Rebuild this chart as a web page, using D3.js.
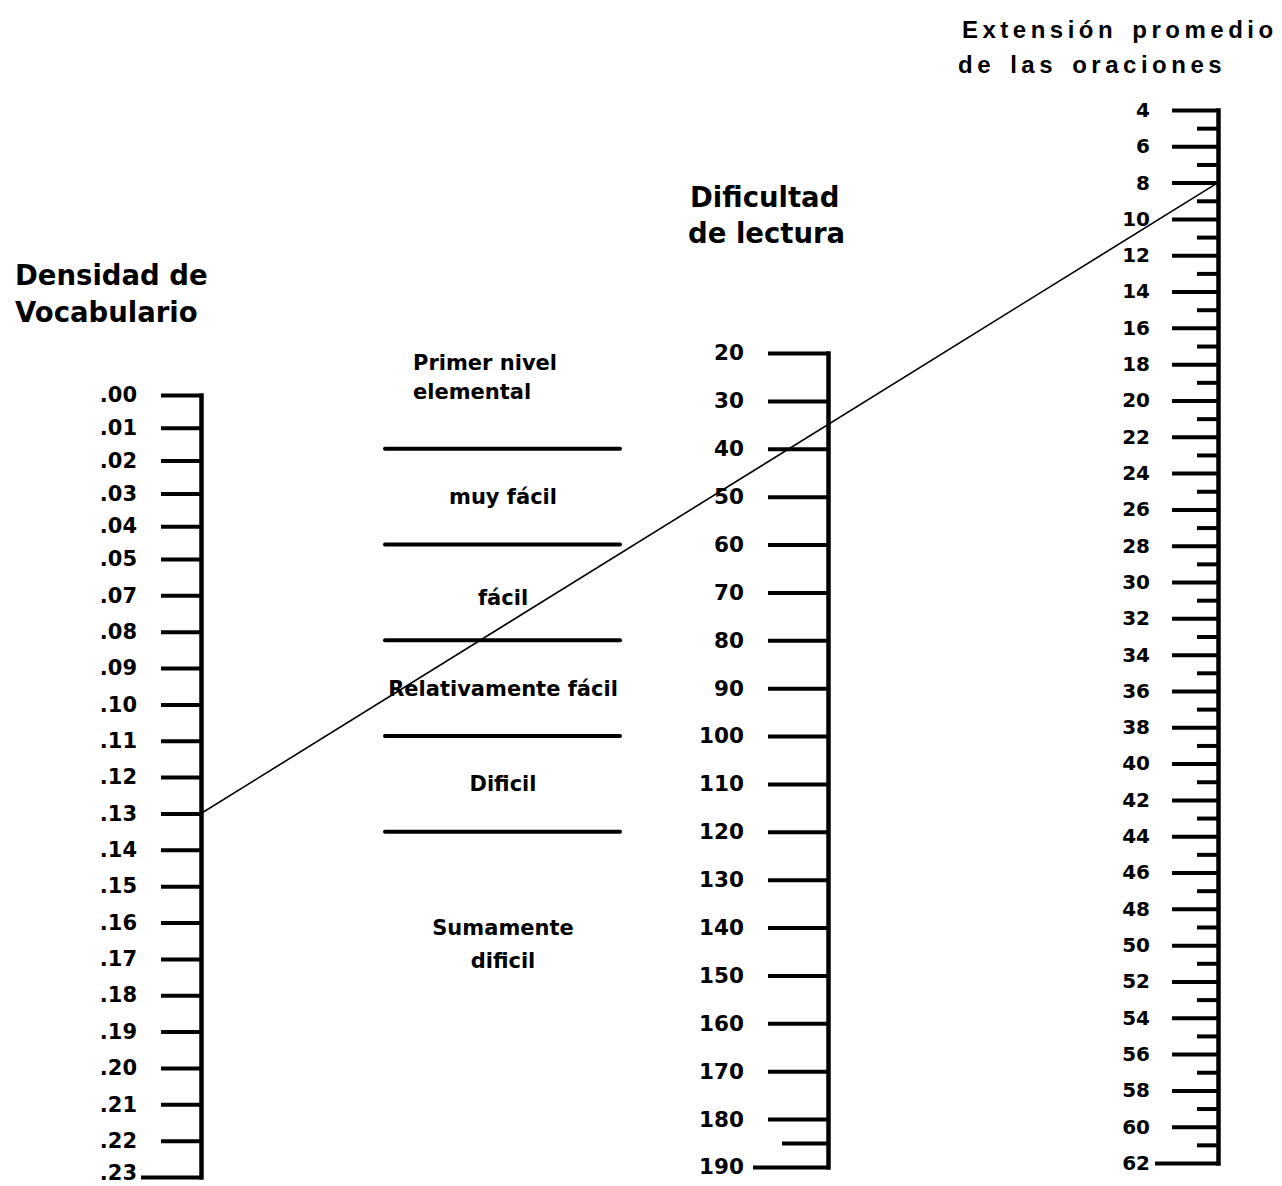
<!DOCTYPE html>
<html>

<head>
  <meta charset="utf-8">
  <script src="https://cdn.jsdelivr.net/npm/d3@7"></script>
  <style>
    *{
      margin: 0px 0px;
      padding: 0px 0px;
    }
    body{
      background-color: white;
    }
    .axis path, .axis line{
      stroke: black;
    }
    .axis text{
      font-family: "DejaVu Sans", sans-serif;
      font-weight: bold;
      fill: black;
    }
    .title{
      font-family: "DejaVu Sans", sans-serif;
      font-weight: bold;
      font-size: 27.5px;
    }
    .band{
      font-family: "DejaVu Sans", sans-serif;
      font-weight: bold;
      font-size: 21px;
    }
    .ext{
      font-family: "Liberation Sans", sans-serif;
      font-weight: bold;
      font-size: 24px;
      letter-spacing: 4.5px;
      word-spacing: 4px;
    }
  </style>
</head>

<body>
  <script type="text/javascript">
    // values
    var densidad = [".00", ".01", ".02", ".03", ".04", ".05", ".07", ".08", ".09", ".10", ".11", ".12",
      ".13", ".14", ".15", ".16", ".17", ".18", ".19", ".20", ".21", ".22", ".23"];
    var dificultad = [20, 30, 40, 50, 60, 70, 80, 90, 100, 110, 120, 130, 140, 150, 160, 170, 180, 190];
    var dificultadMinor = [185];
    var extension = [4, 6, 8, 10, 12, 14, 16, 18, 20, 22, 24, 26, 28, 30, 32, 34, 36, 38, 40, 42, 44, 46,
      48, 50, 52, 54, 56, 58, 60, 62];
    var extensionMinor = [5, 7, 9, 11, 13, 15, 17, 19, 21, 23, 25, 27, 29, 31, 33, 35, 37, 39, 41, 43, 45,
      47, 49, 51, 53, 55, 57, 59, 61];

    // reading-difficulty bands (limits on the middle scale)
    var bandLimits = [40, 60, 80, 100, 120];
    var bandNames = [["Primer nivel", "elemental"], ["muy fácil"], ["fácil"], ["Relativamente fácil"],
      ["Dificil"], ["Sumamente", "dificil"]];
    var bandAt = [[22, 28], [50], [71], [90], [110], [140, 147]];

    // example reading drawn on the chart
    var lecturaDensidad = ".13";
    var lecturaExtension = 8;

    var w = 1282;
    var h = 1186;

    var svg = d3.select("body").append("svg")
      .attr("width", w)
      .attr("height", h);

    // scales (left one is not evenly spaced in the original, so index based)
    var yDens = d3.scaleLinear().domain([0, 5, densidad.length - 1]).range([395, 559, 1177]);
    var yDif = d3.scaleLinear().domain([20, 190]).range([353, 1167]);
    var yExt = d3.scaleLinear().domain([4, 62]).range([110, 1163]);

    var xDens = 201, xDif = 828, xExt = 1218;

    function styleAxis(g, size) {
      g.select(".domain").attr("stroke-width", 4.5).attr("stroke-linecap", "square");
      g.selectAll(".tick line").attr("stroke-width", 4);
      g.selectAll(".tick text").attr("font-size", size);
    }

    // left scale: Densidad de Vocabulario
    var gDens = svg.append("g")
      .attr("class", "axis")
      .attr("transform", "translate(" + xDens + ",0)")
      .call(d3.axisLeft(yDens)
        .tickValues(d3.range(densidad.length))
        .tickFormat(function(i) { return densidad[i]; })
        .tickSize(40).tickSizeOuter(0).tickPadding(24))
      .call(styleAxis, 21);
    var lastDens = gDens.selectAll(".tick").filter(function(d) { return d == densidad.length - 1; });
    lastDens.select("line").attr("x2", -60);
    lastDens.select("text").attr("dy", "0.1em");

    // middle scale: Dificultad de lectura
    var gDif = svg.append("g")
      .attr("class", "axis")
      .attr("transform", "translate(" + xDif + ",0)")
      .call(d3.axisLeft(yDif)
        .tickValues(dificultad)
        .tickSize(60).tickSizeOuter(0).tickPadding(24))
      .call(styleAxis, 21.5);
    gDif.selectAll(".tick line").filter(function(d) { return d == 190; }).attr("x2", -75);

    svg.append("g")
      .attr("class", "axis")
      .attr("transform", "translate(" + xDif + ",0)")
      .call(d3.axisLeft(yDif).tickValues(dificultadMinor).tickSize(46).tickFormat(""))
      .call(styleAxis, 20)
      .call(function(g) { g.select(".domain").remove(); });

    // right scale: Extension promedio de las oraciones
    var gExt = svg.append("g")
      .attr("class", "axis")
      .attr("transform", "translate(" + xExt + ",0)")
      .call(d3.axisLeft(yExt)
        .tickValues(extension)
        .tickSize(46).tickSizeOuter(0).tickPadding(22))
      .call(styleAxis, 20);
    gExt.selectAll(".tick line").filter(function(d) { return d == 62; }).attr("x2", -63);

    svg.append("g")
      .attr("class", "axis")
      .attr("transform", "translate(" + xExt + ",0)")
      .call(d3.axisLeft(yExt).tickValues(extensionMinor).tickSize(21).tickFormat(""))
      .call(styleAxis, 20)
      .call(function(g) { g.select(".domain").remove(); });

    // band separators
    svg.selectAll(".limit")
      .data(bandLimits)
      .enter()
      .append("line")
      .attr("class", "limit")
      .attr("x1", 385)
      .attr("x2", 620)
      .attr("y1", function(d) { return yDif(d); })
      .attr("y2", function(d) { return yDif(d); })
      .attr("stroke", "black")
      .attr("stroke-width", 4)
      .attr("stroke-linecap", "round");

    // band names
    bandNames.forEach(function(lines, i) {
      lines.forEach(function(t, j) {
        svg.append("text")
          .attr("class", "band")
          .attr("x", i == 0 ? 413 : 503)
          .attr("y", yDif(bandAt[i][j]))
          .attr("dy", "0.35em")
          .attr("text-anchor", i == 0 ? "start" : "middle")
          .text(t);
      });
    });

    // titles
    svg.append("text").attr("class", "title").attr("x", 15).attr("y", 285).text("Densidad de");
    svg.append("text").attr("class", "title").attr("x", 15).attr("y", 322).text("Vocabulario");
    svg.append("text").attr("class", "title").attr("x", 690).attr("y", 207).text("Dificultad");
    svg.append("text").attr("class", "title").attr("x", 688).attr("y", 243).text("de lectura");
    svg.append("text").attr("class", "ext").attr("x", 962).attr("y", 38).text("Extensión promedio");
    svg.append("text").attr("class", "ext").attr("x", 958).attr("y", 73).text("de las oraciones");

    // reading line joining the two outer scales
    svg.append("line")
      .attr("x1", xDens)
      .attr("y1", yDens(densidad.indexOf(lecturaDensidad)))
      .attr("x2", xExt)
      .attr("y2", yExt(lecturaExtension))
      .attr("stroke", "black")
      .attr("stroke-width", 1.6);
  </script>
</body>

</html>
